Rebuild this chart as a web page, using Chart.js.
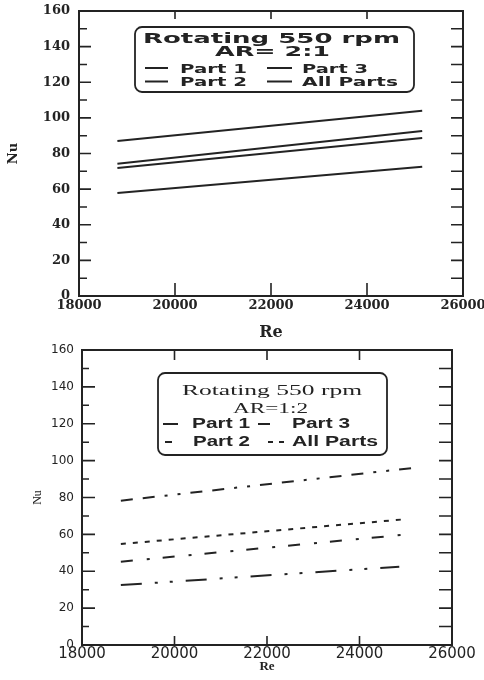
<!DOCTYPE html>
<html>
<head>
<meta charset="utf-8">
<script src="https://cdn.jsdelivr.net/npm/chart.js@4.4.1/dist/chart.umd.min.js"></script>
<style>
  body { margin: 0; background: #fff; }
  .wrap { position: relative; width: 484px; height: 680px; }
  canvas { position: absolute; left: 0; }
  #top-chart { top: 0; }
  #bottom-chart { top: 340px; }
</style>
</head>
<body>
<div class="wrap">
  <canvas id="top-chart" width="484" height="340"></canvas>
  <canvas id="bottom-chart" width="484" height="340"></canvas>
</div>
<script>
// Axis ticks
const reTicks = [18000, 20000, 22000, 24000, 26000];
const nuTicks = [0, 20, 40, 60, 80, 100, 120, 140, 160];

// Rotating 550 rpm, AR = 2:1
const reTop = [18800, 25150];
const topPart1 = [57.8, 72.6];
const topPart2 = [74.3, 92.6];
const topPart3 = [87.0, 104.0];
const topAllParts = [71.9, 88.7];

// Rotating 550 rpm, AR = 1:2
const reBottomPart1 = [18840, 24860];
const reBottomPart2 = [18840, 25120];
const reBottomPart3 = [18840, 25140];
const reBottomAll = [18840, 25030];
const bottomPart1 = [32.5, 42.5];
const bottomPart2 = [45.2, 60.2];
const bottomPart3 = [78.3, 96.0];
const bottomAllParts = [54.8, 68.3];

const INK = '#232323';

function toPoints(xs, ys) {
    return xs.map((x, i) => ({ x: x, y: ys[i] }));
}

// draw text squeezed/stretched into [x1, x2]
function fitText(ctx, text, x1, x2, y, font) {
    ctx.font = font;
    const w = ctx.measureText(text).width;
    ctx.save();
    ctx.translate(x1, y);
    ctx.scale((x2 - x1) / w, 1);
    ctx.textAlign = 'left';
    ctx.textBaseline = 'alphabetic';
    ctx.fillText(text, 0, 0);
    ctx.restore();
}

// frame around the plot with inward ticks on all four sides
const frameTicks = {
    id: 'frameTicks',
    afterDraw(chart, args, o) {
        const { ctx, chartArea: a } = chart;
        const x = chart.scales.x, y = chart.scales.y;
        ctx.save();
        ctx.strokeStyle = INK;
        ctx.lineWidth = o.frameWidth;
        ctx.strokeRect(a.left, a.top, a.right - a.left, a.bottom - a.top);
        ctx.lineWidth = 1.6;
        ctx.beginPath();
        for (let v = y.min; v <= y.max; v += 10) {
            const py = y.getPixelForValue(v);
            const len = v % 20 === 0 ? o.yMajor : o.yMinor;
            ctx.moveTo(a.left, py); ctx.lineTo(a.left + len, py);
            ctx.moveTo(a.right, py); ctx.lineTo(a.right - o.yRight, py);
        }
        x.ticks.forEach(t => {
            if (t.value <= x.min || t.value >= x.max) return;
            const px = x.getPixelForValue(t.value);
            ctx.moveTo(px, a.bottom); ctx.lineTo(px, a.bottom - o.xBottom);
            ctx.moveTo(px, a.top); ctx.lineTo(px, a.top + o.xTop);
        });
        ctx.stroke();
        ctx.restore();
    }
};

// boxed legend drawn inside the plot
const boxLegend = {
    id: 'boxLegend',
    afterDraw(chart, args, o) {
        const ctx = chart.ctx;
        const [l, t, r, b] = o.box;
        ctx.save();
        ctx.fillStyle = '#fff';
        ctx.strokeStyle = INK;
        ctx.lineWidth = 1.8;
        ctx.beginPath();
        ctx.roundRect(l, t, r - l, b - t, 7);
        ctx.fill();
        ctx.stroke();
        ctx.fillStyle = INK;
        o.texts.forEach(s => fitText(ctx, s.text, s.x1, s.x2, s.y, s.font));
        ctx.lineWidth = 2;
        o.samples.forEach(s => {
            ctx.setLineDash(s.dash || []);
            ctx.beginPath();
            ctx.moveTo(s.x1, s.y);
            ctx.lineTo(s.x2, s.y);
            ctx.stroke();
        });
        ctx.restore();
    }
};

function lineSet(label, data, dash) {
    return {
        label: label,
        data: data,
        borderColor: INK,
        borderWidth: 2,
        borderDash: dash,
        borderCapStyle: 'butt',
        pointRadius: 0,
        fill: false,
        tension: 0
    };
}

function axes(cfg) {
    return {
        x: {
            type: 'linear',
            min: reTicks[0],
            max: reTicks[reTicks.length - 1],
            afterBuildTicks: s => { s.ticks = reTicks.map(v => ({ value: v })); },
            grid: { display: false, drawTicks: false },
            border: { display: false },
            ticks: { color: INK, font: cfg.xFont, padding: cfg.xPad, maxRotation: 0, autoSkip: false, callback: v => String(v) },
            title: { display: true, text: 'Re', color: INK, font: cfg.reFont, padding: { top: 0, bottom: cfg.rePad } },
            afterFit: s => { s.height = cfg.xHeight; s.paddingLeft = 0; s.paddingRight = 0; }
        },
        y: {
            min: 0,
            max: 160,
            afterBuildTicks: s => { s.ticks = nuTicks.map(v => ({ value: v })); },
            grid: { display: false, drawTicks: false },
            border: { display: false },
            ticks: { color: INK, font: cfg.yFont, padding: cfg.yPad, callback: v => String(v) },
            title: { display: true, text: 'Nu', color: INK, font: cfg.nuFont, padding: { top: cfg.nuPad, bottom: 0 } },
            afterFit: s => { s.width = cfg.yWidth; s.paddingTop = 0; s.paddingBottom = 0; }
        }
    };
}

const sansB12 = 'bold 12px "DejaVu Sans"';

new Chart(document.getElementById('top-chart'), {
    type: 'line',
    data: {
        datasets: [
            lineSet('Part 1', toPoints(reTop, topPart1), []),
            lineSet('Part 2', toPoints(reTop, topPart2), []),
            lineSet('Part 3', toPoints(reTop, topPart3), []),
            lineSet('All Parts', toPoints(reTop, topAllParts), [])
        ]
    },
    options: {
        responsive: false,
        animation: false,
        layout: { padding: { top: 11, right: 21, left: 0, bottom: 0 } },
        scales: axes({
            xFont: { family: 'DejaVu Serif', weight: 'bold', size: 13 },
            yFont: { family: 'DejaVu Serif', weight: 'bold', size: 13 },
            reFont: { family: 'DejaVu Serif', weight: 'bold', size: 16, lineHeight: 1 },
            nuFont: { family: 'DejaVu Serif', weight: 'bold', size: 13, lineHeight: 1 },
            xPad: 2, yPad: 9, rePad: -1, nuPad: 7, xHeight: 44, yWidth: 79
        }),
        plugins: {
            legend: { display: false },
            tooltip: { enabled: false },
            frameTicks: { frameWidth: 2, yMajor: 12, yMinor: 8, yRight: 12, xBottom: 13, xTop: 8 },
            boxLegend: {
                box: [135, 27, 414, 92],
                texts: [
                    { text: 'Rotating 550 rpm', x1: 143, x2: 400, y: 43, font: 'bold 14px "DejaVu Sans"' },
                    { text: 'AR= 2:1', x1: 215, x2: 330, y: 56, font: 'bold 14px "DejaVu Sans"' },
                    { text: 'Part 1', x1: 180, x2: 247, y: 72.5, font: sansB12 },
                    { text: 'Part 3', x1: 302, x2: 368, y: 72.5, font: sansB12 },
                    { text: 'Part 2', x1: 180, x2: 247, y: 86, font: sansB12 },
                    { text: 'All Parts', x1: 302, x2: 398, y: 86, font: sansB12 }
                ],
                samples: [
                    { x1: 145, x2: 168, y: 68 },
                    { x1: 267, x2: 292, y: 68 },
                    { x1: 145, x2: 168, y: 81.5 },
                    { x1: 267, x2: 292, y: 81.5 }
                ]
            }
        }
    },
    plugins: [frameTicks, boxLegend]
});

const sansB14 = 'bold 14px "Liberation Sans"';
const serif15 = '15px "Liberation Serif"';

new Chart(document.getElementById('bottom-chart'), {
    type: 'line',
    data: {
        datasets: [
            lineSet('Part 1', toPoints(reBottomPart1, bottomPart1), [21, 13, 3, 12, 3, 13]),
            lineSet('Part 2', toPoints(reBottomPart2, bottomPart2), [12, 14, 3, 13]),
            lineSet('Part 3', toPoints(reBottomPart3, bottomPart3), [12, 10, 12, 10, 3, 10, 3, 10]),
            lineSet('All Parts', toPoints(reBottomAll, bottomAllParts), [5, 7])
        ]
    },
    options: {
        responsive: false,
        animation: false,
        layout: { padding: { top: 10, right: 32, left: 0, bottom: 0 } },
        scales: axes({
            xFont: { family: 'DejaVu Sans', size: 15 },
            yFont: { family: 'DejaVu Sans', size: 12 },
            reFont: { family: 'Liberation Serif', weight: 'bold', size: 13, lineHeight: 1 },
            nuFont: { family: 'Liberation Serif', size: 12, lineHeight: 1 },
            xPad: 0, yPad: 8, rePad: 7, nuPad: 32, xHeight: 35, yWidth: 82
        }),
        plugins: {
            legend: { display: false },
            tooltip: { enabled: false },
            frameTicks: { frameWidth: 2, yMajor: 13, yMinor: 7, yRight: 13, xBottom: 9, xTop: 10 },
            boxLegend: {
                box: [158, 33, 387, 115],
                texts: [
                    { text: 'Rotating 550 rpm', x1: 182, x2: 362, y: 55, font: serif15 },
                    { text: 'AR=1:2', x1: 233, x2: 308, y: 73, font: serif15 },
                    { text: 'Part 1', x1: 192, x2: 250, y: 88, font: sansB14 },
                    { text: 'Part 3', x1: 292, x2: 350, y: 88, font: sansB14 },
                    { text: 'Part 2', x1: 193, x2: 250, y: 106, font: sansB14 },
                    { text: 'All Parts', x1: 292, x2: 378, y: 106, font: sansB14 }
                ],
                samples: [
                    { x1: 163, x2: 178, y: 84 },
                    { x1: 258, x2: 270, y: 84 },
                    { x1: 165, x2: 172, y: 102 },
                    { x1: 268, x2: 284, y: 102, dash: [5, 6] }
                ]
            }
        }
    },
    plugins: [frameTicks, boxLegend]
});
</script>
</body>
</html>
